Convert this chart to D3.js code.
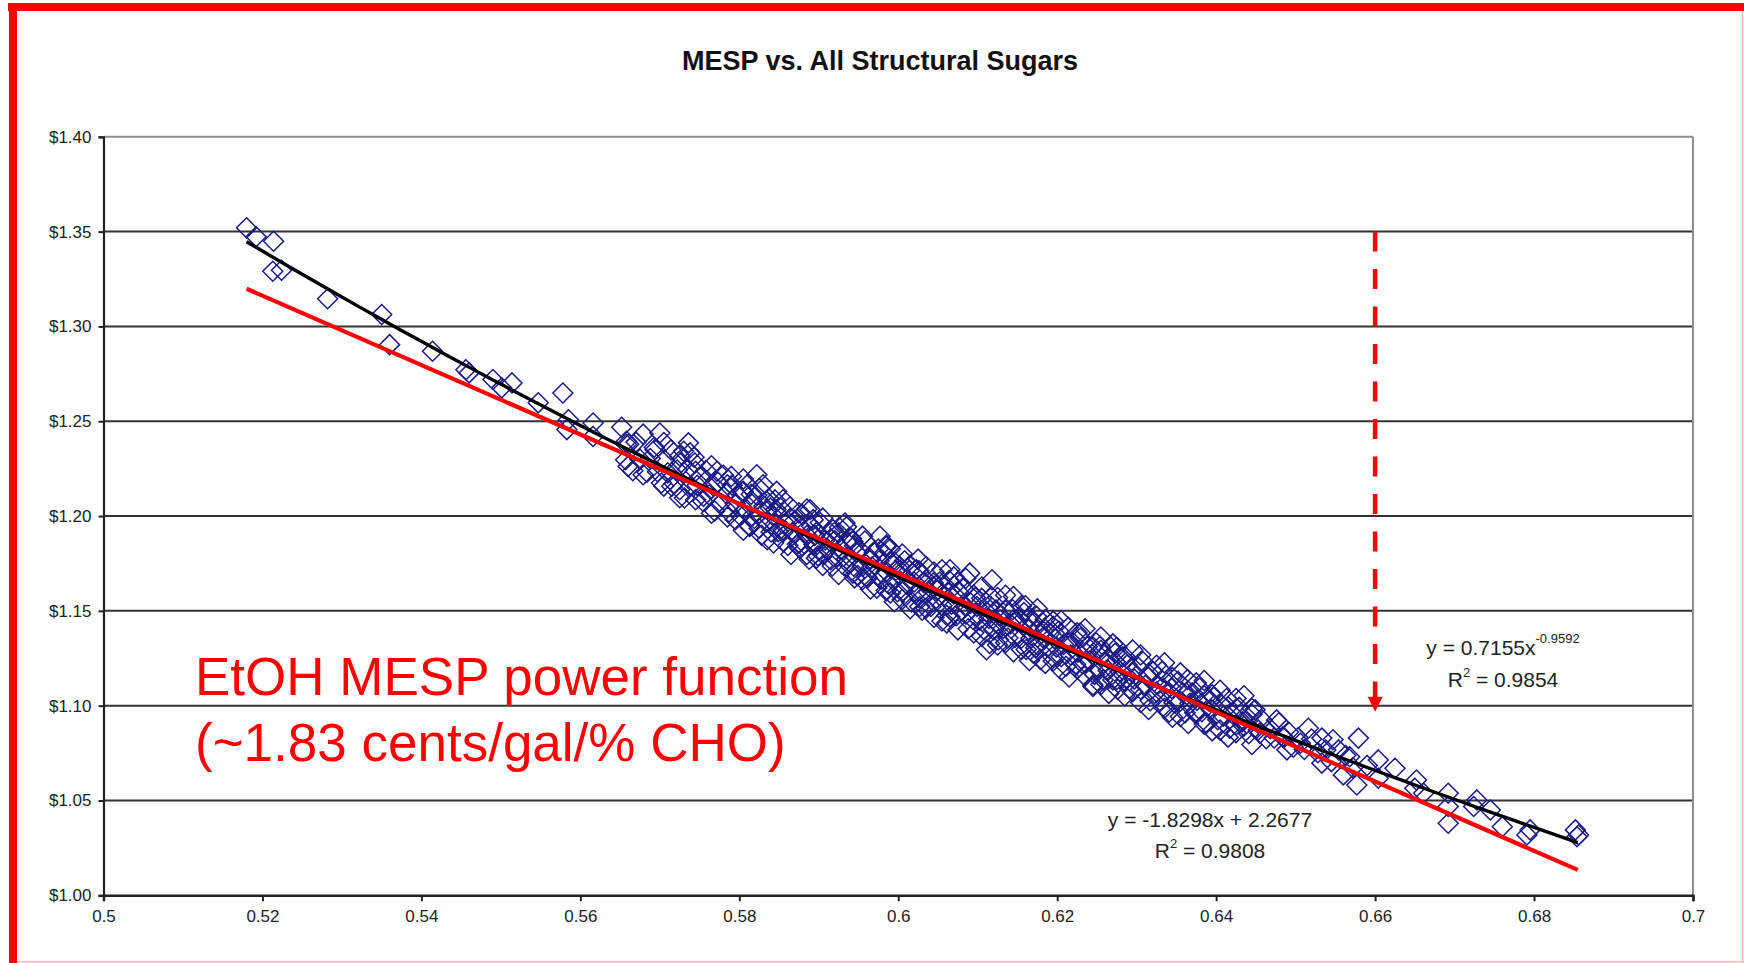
<!DOCTYPE html>
<html>
<head>
<meta charset="utf-8">
<script src="https://cdn.jsdelivr.net/npm/d3@7"></script>
<style>
  html, body { margin: 0; padding: 0; background: #fff; }
  svg { display: block; }
  text { font-family: "Liberation Sans", Arial, sans-serif; }
</style>
</head>
<body>
<svg id="chart" width="1744" height="963"></svg>
<script>
// ---------------- DATA ----------------
const chartTitle = "MESP vs. All Structural Sugars";
const xTicks = [0.5, 0.52, 0.54, 0.56, 0.58, 0.6, 0.62, 0.64, 0.66, 0.68, 0.7];
const xTickLabels = ["0.5", "0.52", "0.54", "0.56", "0.58", "0.6", "0.62", "0.64", "0.66", "0.68", "0.7"];
const yTicks = [1.00, 1.05, 1.10, 1.15, 1.20, 1.25, 1.30, 1.35, 1.40];
const yTickLabels = ["$1.00", "$1.05", "$1.10", "$1.15", "$1.20", "$1.25", "$1.30", "$1.35", "$1.40"];

// Trend lines (from the equations printed on the chart)
const powerTrend = { coef: 0.7155, exponent: -0.9592, r2: 0.9854 };
const linearTrend = { slope: -1.8298, intercept: 2.2677, r2: 0.9808 };
const trendXRange = [0.518, 0.6855];

// Arrow marker at 0.66 from $1.35 down to ~$1.097
const arrowX = 0.66;
const arrowYRange = [1.35, 1.0968];

const annotationLines = ["EtOH MESP power function", "(~1.83 cents/gal/% CHO)"];

// Individually readable points (upper-left and lower-right tails)
const tailPoints = [
  [0.5180,1.3520],[0.5192,1.3473],[0.5214,1.3449],[0.5213,1.3291],[0.5224,1.3296],
  [0.5282,1.3146],[0.5350,1.3063],[0.5360,1.2904],[0.5414,1.2869],[0.5456,1.2772],
  [0.5460,1.2755],[0.5490,1.2720],[0.5501,1.2676],[0.5514,1.2702],[0.5547,1.2597],
  [0.5578,1.2649],[0.5583,1.2456],[0.5585,1.2508],[0.5616,1.2491],[0.5616,1.2420],
  [0.5658,1.2394],[0.5658,1.2377],[0.5660,1.2262],[0.5679,1.2218],[0.5700,1.2438],
  [0.5694,1.2350],[0.5715,1.2157],[0.5725,1.2139],[0.5736,1.2386],[0.5738,1.2333],
  [0.5730,1.2342],[0.5744,1.2280],[0.5755,1.2104],[0.5772,1.2236],[0.5790,1.2209],
  [0.5795,1.1981],[0.5805,1.2130],[0.5813,1.1945],[0.5822,1.2218],[0.5830,1.2165],
  [0.5839,1.2042],[0.5843,1.1858],[0.5847,1.2130],[0.5855,1.1928],[0.5876,1.1831],
  [0.5889,1.2033],[0.5893,1.1981],[0.5897,1.1778],[0.5918,1.1928],[0.5933,1.1963],
  [0.5943,1.1866],[0.5943,1.1699],[0.5960,1.1681],[0.5977,1.1893],[0.5985,1.1840],
  [0.5990,1.1594],[0.6002,1.1734],[0.6023,1.1717],[0.6027,1.1523],[0.6044,1.1629],
  [0.6061,1.1436],[0.6065,1.1717],[0.6090,1.1699],[0.6099,1.1523],[0.6111,1.1295],
  [0.6118,1.1664],[0.6128,1.1453],[0.6145,1.1576],[0.6170,1.1277],[0.6174,1.1471],
  [0.6195,1.1418],[0.6229,1.1383],[0.6245,1.1101],[0.6254,1.1313],[0.6273,1.1277],
  [0.6449,1.0978],[0.6455,1.0855],[0.6476,1.0925],[0.6484,1.0837],[0.6489,1.0767],
  [0.6516,1.0881],[0.6506,1.0802],[0.6533,1.0829],[0.6533,1.0697],[0.6547,1.0820],
  [0.6554,1.0767],[0.6560,1.0635],[0.6568,1.0731],[0.6579,1.0829],[0.6577,1.0582],
  [0.6604,1.0714],[0.6604,1.0617],[0.6625,1.0670],[0.6652,1.0608],[0.6650,1.0565],
  [0.6661,1.0538],[0.6692,1.0538],[0.6692,1.0468],[0.6692,1.0380],[0.6728,1.0503],
  [0.6724,1.0468],[0.6745,1.0450],[0.6760,1.0362],[0.6791,1.0318],[0.6795,1.0345],
  [0.6852,1.0345],[0.6856,1.0318],[0.6854,1.0309]
];

// Dense core of the cloud (estimated)
const corePoints = [
  [0.5652,1.2468],[0.5657,1.2297],[0.5661,1.2379],[0.5666,1.2239],[0.5670,1.2390],[0.5675,1.2300],
  [0.5679,1.2432],[0.5684,1.2231],[0.5688,1.2303],[0.5693,1.2363],[0.5697,1.2234],
  [0.5702,1.2174],[0.5706,1.2296],[0.5710,1.2228],[0.5714,1.2349],[0.5718,1.2171],[0.5722,1.2243],
  [0.5727,1.2283],[0.5731,1.2095],[0.5735,1.2246],[0.5739,1.2158],[0.5743,1.2310],[0.5747,1.2162],
  [0.5751,1.2204],[0.5754,1.2078],[0.5758,1.2240],[0.5762,1.2111],[0.5765,1.2145],[0.5769,1.2027],
  [0.5773,1.2179],[0.5776,1.2063],[0.5780,1.2215],[0.5784,1.2117],[0.5787,1.2021],[0.5791,1.2163],
  [0.5795,1.2065],[0.5798,1.2109],
  [0.5801,1.2003],[0.5804,1.2127],[0.5807,1.2031],[0.5810,1.2165],[0.5813,1.1949],[0.5816,1.2063],
  [0.5819,1.1987],[0.5822,1.2111],[0.5825,1.2015],[0.5828,1.1899],[0.5831,1.2053],[0.5834,1.1968],
  [0.5837,1.2092],[0.5840,1.1916],[0.5843,1.2000],[0.5846,1.2034],[0.5849,1.1918],
  [0.5852,1.2042],[0.5855,1.1916],[0.5858,1.1960],[0.5861,1.1845],[0.5864,1.2049],[0.5867,1.1913],
  [0.5870,1.1977],[0.5873,1.1851],[0.5876,1.1945],[0.5879,1.2009],[0.5882,1.1853],[0.5885,1.1897],
  [0.5888,1.1772],[0.5891,1.1946],[0.5894,1.1850],[0.5897,1.1914],[0.5899,1.1790],
  [0.5902,1.1965],[0.5905,1.1799],[0.5908,1.1874],[0.5911,1.1828],[0.5914,1.1912],[0.5917,1.1737],
  [0.5920,1.1871],[0.5923,1.1785],[0.5926,1.1940],[0.5929,1.1824],[0.5932,1.1738],[0.5935,1.1863],
  [0.5938,1.1787],[0.5941,1.1881],[0.5944,1.1735],[0.5947,1.1810],[0.5949,1.1686],
  [0.5952,1.1820],[0.5955,1.1734],[0.5958,1.1868],[0.5961,1.1673],[0.5964,1.1767],[0.5967,1.1731],
  [0.5970,1.1806],[0.5973,1.1620],[0.5976,1.1764],[0.5979,1.1668],[0.5982,1.1803],[0.5985,1.1707],
  [0.5988,1.1641],[0.5991,1.1756],[0.5994,1.1660],[0.5997,1.1714],[0.5999,1.1601],[0.5990,1.1828],
  [0.6002,1.1715],[0.6005,1.1600],[0.6008,1.1764],[0.6011,1.1639],[0.6014,1.1713],[0.6017,1.1547],
  [0.6020,1.1652],[0.6023,1.1596],[0.6026,1.1711],[0.6029,1.1565],[0.6032,1.1649],[0.6035,1.1734],
  [0.6038,1.1598],[0.6041,1.1523],[0.6044,1.1647],[0.6047,1.1562],[0.6049,1.1608],[0.6030,1.1503],
  [0.6052,1.1652],[0.6055,1.1527],[0.6058,1.1581],[0.6061,1.1476],[0.6064,1.1660],[0.6067,1.1535],
  [0.6070,1.1589],[0.6073,1.1474],[0.6076,1.1598],[0.6079,1.1503],[0.6082,1.1617],[0.6085,1.1522],
  [0.6088,1.1406],[0.6091,1.1541],[0.6094,1.1456],[0.6097,1.1570],[0.6099,1.1486],[0.6070,1.1679],
  [0.6102,1.1451],[0.6105,1.1566],[0.6108,1.1401],[0.6111,1.1495],[0.6114,1.1460],[0.6117,1.1574],
  [0.6120,1.1399],[0.6123,1.1504],[0.6126,1.1348],[0.6129,1.1473],[0.6132,1.1407],[0.6135,1.1502],
  [0.6138,1.1357],[0.6141,1.1431],[0.6144,1.1506],[0.6147,1.1360],[0.6149,1.1447],[0.6125,1.1320],
  [0.6152,1.1461],[0.6155,1.1356],[0.6158,1.1491],[0.6161,1.1296],[0.6164,1.1400],[0.6167,1.1355],
  [0.6170,1.1440],[0.6173,1.1305],[0.6176,1.1399],[0.6179,1.1244],[0.6182,1.1359],[0.6185,1.1454],
  [0.6188,1.1308],[0.6191,1.1383],[0.6194,1.1258],[0.6197,1.1353],[0.6199,1.1309],[0.6160,1.1527],
  [0.6202,1.1394],[0.6205,1.1258],[0.6208,1.1323],[0.6211,1.1208],[0.6214,1.1413],[0.6217,1.1267],
  [0.6220,1.1332],[0.6223,1.1217],[0.6226,1.1282],[0.6229,1.1357],[0.6232,1.1221],[0.6235,1.1156],
  [0.6238,1.1311],[0.6241,1.1236],[0.6244,1.1270],[0.6247,1.1165],[0.6249,1.1332],
  [0.6252,1.1197],[0.6255,1.1292],[0.6258,1.1136],[0.6261,1.1231],[0.6264,1.1186],[0.6267,1.1311],
  [0.6270,1.1136],[0.6273,1.1231],[0.6276,1.1086],[0.6279,1.1181],[0.6282,1.1256],[0.6285,1.1130],
  [0.6288,1.1215],[0.6291,1.1090],[0.6294,1.1175],[0.6297,1.1140],[0.6270,1.1326],
  [0.6302,1.1202],[0.6305,1.1087],[0.6308,1.1232],[0.6311,1.1107],[0.6314,1.1151],[0.6317,1.1026],
  [0.6320,1.1181],[0.6323,1.1066],[0.6326,1.1111],[0.6329,1.1026],[0.6332,1.1181],[0.6335,1.1076],
  [0.6338,1.1121],[0.6341,1.0966],[0.6344,1.1091],[0.6347,1.1016],
  [0.6352,1.1128],[0.6355,1.1023],[0.6358,1.1068],[0.6361,1.0963],[0.6364,1.1138],[0.6367,1.1013],
  [0.6370,1.1068],[0.6373,1.0963],[0.6376,1.1028],[0.6379,1.1093],[0.6382,1.0968],[0.6385,1.1053],
  [0.6388,1.0908],[0.6391,1.1023],[0.6394,1.0978],[0.6397,1.1044],
  [0.6402,1.0926],[0.6405,1.1011],[0.6409,1.0944],[0.6413,1.1038],[0.6417,1.0881],[0.6421,1.0955],
  [0.6425,1.0898],[0.6429,1.0991],[0.6433,1.0915],[0.6437,1.0948],[0.6441,1.0852],[0.6445,1.0955],
  [0.6453,1.0872],[0.6458,1.0924],[0.6463,1.0826],[0.6468,1.0878],[0.6473,1.0830],[0.6479,1.0910],
  [0.6485,1.0830],[0.6491,1.0861],[0.6497,1.0781],
  [0.6503,1.0831],[0.6511,1.0769],[0.6520,1.0824],[0.6528,1.0752],[0.6538,1.0766],[0.6545,1.0705],
  [0.6563,1.0737],[0.6572,1.0673],[0.6590,1.0685]
];

// Outer layer of the dense band (estimated)
const bandPoints = [
  [0.5705,1.2388],[0.5705,1.2158],[0.5725,1.2317],[0.5725,1.2097],[0.5745,1.2236],[0.5745,1.2086],
  [0.5765,1.2265],[0.5765,1.2015],[0.5785,1.2165],[0.5785,1.1995],
  [0.5805,1.2195],[0.5805,1.1925],[0.5815,1.2115],[0.5815,1.1995],[0.5825,1.1935],[0.5825,1.2145],
  [0.5835,1.2035],[0.5835,1.1875],[0.5845,1.2085],[0.5845,1.1955],
  [0.5855,1.2086],[0.5855,1.1866],[0.5865,1.1987],[0.5865,1.1797],[0.5875,1.2017],[0.5875,1.1857],
  [0.5885,1.2037],[0.5885,1.1797],[0.5895,1.1898],[0.5895,1.1838],
  [0.5905,1.1989],[0.5905,1.1739],[0.5915,1.1880],[0.5915,1.1770],[0.5925,1.1912],[0.5925,1.1692],
  [0.5935,1.1943],[0.5935,1.1773],[0.5945,1.1844],[0.5945,1.1674],
  [0.5955,1.1894],[0.5955,1.1664],[0.5965,1.1775],[0.5965,1.1615],[0.5975,1.1826],[0.5975,1.1686],
  [0.5985,1.1847],[0.5985,1.1607],[0.5995,1.1758],[0.5995,1.1548],
  [0.6005,1.1800],[0.6005,1.1560],[0.6015,1.1741],[0.6015,1.1511],[0.6025,1.1773],[0.6025,1.1603],
  [0.6035,1.1664],[0.6035,1.1514],[0.6045,1.1705],[0.6045,1.1465],
  [0.6055,1.1717],[0.6055,1.1447],[0.6065,1.1609],[0.6065,1.1469],[0.6075,1.1650],[0.6075,1.1400],
  [0.6085,1.1672],[0.6085,1.1482],[0.6095,1.1584],[0.6095,1.1384],
  [0.6105,1.1626],[0.6105,1.1366],[0.6115,1.1528],[0.6115,1.1328],[0.6125,1.1570],[0.6125,1.1430],
  [0.6135,1.1582],[0.6135,1.1332],[0.6145,1.1454],[0.6145,1.1284],
  [0.6155,1.1526],[0.6155,1.1296],[0.6165,1.1468],[0.6165,1.1238],[0.6175,1.1511],[0.6175,1.1321],
  [0.6185,1.1403],[0.6185,1.1223],[0.6195,1.1446],[0.6195,1.1236],
  [0.6205,1.1448],[0.6205,1.1188],[0.6215,1.1331],[0.6215,1.1151],[0.6225,1.1384],[0.6225,1.1194],
  [0.6235,1.1406],[0.6235,1.1226],[0.6245,1.1309],[0.6245,1.1109],
  [0.6255,1.1362],[0.6255,1.1112],[0.6265,1.1245],[0.6265,1.1065],[0.6275,1.1308],[0.6275,1.1138],
  [0.6285,1.1261],[0.6285,1.1051],[0.6295,1.1294],[0.6295,1.1074],
  [0.6305,1.1267],[0.6305,1.1017],[0.6315,1.1170],[0.6315,1.0980],[0.6325,1.1213],[0.6325,1.1073],
  [0.6335,1.1226],[0.6335,1.0986],[0.6345,1.1149],[0.6345,1.0939],
  [0.6355,1.1173],[0.6355,1.0943],[0.6365,1.1076],[0.6365,1.0906],[0.6375,1.1120],[0.6375,1.0960],
  [0.6385,1.1133],[0.6385,1.0903],[0.6395,1.1057],[0.6395,1.0867],
  [0.6405,1.1081],[0.6405,1.0871],[0.6415,1.0994],[0.6415,1.0834],[0.6425,1.1038],[0.6425,1.0858],
  [0.6435,1.1052],[0.6435,1.0892],[0.6445,1.0985],[0.6445,1.0795]
];

// ---------------- DRAWING ----------------
const svg = d3.select("#chart");
const W = 1744, H = 963;

svg.append("rect").attr("x", 0).attr("y", 0).attr("width", W).attr("height", H).attr("fill", "#fff");

// outer frame
svg.append("line").attr("x1", W - 1.5).attr("x2", W - 1.5).attr("y1", 8).attr("y2", H)
  .attr("stroke", "#ffb8b8").attr("stroke-width", 1.5);
svg.append("line").attr("x1", 9).attr("x2", W).attr("y1", H - 1.2).attr("y2", H - 1.2)
  .attr("stroke", "#ffb8b8").attr("stroke-width", 1.5);
svg.append("rect").attr("x", 8).attr("y", 3).attr("width", W - 8).attr("height", 8).attr("fill", "#ff0000");
svg.append("rect").attr("x", 9).attr("y", 3).attr("width", 8).attr("height", H - 3).attr("fill", "#ff0000");

const x = d3.scaleLinear().domain([0.5, 0.7]).range([103.5, 1693]);
const y = d3.scaleLinear().domain([1.0, 1.4]).range([895.3, 136.8]);

// title
svg.append("text").attr("x", 880).attr("y", 70).attr("text-anchor", "middle")
  .attr("font-size", 27).attr("font-weight", "bold").attr("fill", "#111").text(chartTitle);

// grid lines
const g = svg.append("g");
g.selectAll("line.grid").data(yTicks.filter(v => v > 1.0 && v < 1.4)).enter().append("line")
  .attr("class", "grid")
  .attr("x1", x(0.5)).attr("x2", x(0.7))
  .attr("y1", d => y(d)).attr("y2", d => y(d))
  .attr("stroke", "#333").attr("stroke-width", 2);
// top and right border (gray)
g.append("line").attr("x1", x(0.5)).attr("x2", x(0.7)).attr("y1", y(1.4)).attr("y2", y(1.4))
  .attr("stroke", "#8e8e8e").attr("stroke-width", 2);
g.append("line").attr("x1", x(0.7)).attr("x2", x(0.7)).attr("y1", y(1.4)).attr("y2", y(1.0))
  .attr("stroke", "#8e8e8e").attr("stroke-width", 2);

// axes
const yAxis = d3.axisLeft(y).tickValues(yTicks).tickSize(5).tickPadding(7)
  .tickFormat((d, i) => yTickLabels[i]);
const xAxis = d3.axisBottom(x).tickValues(xTicks).tickSize(6).tickPadding(9)
  .tickFormat((d, i) => xTickLabels[i]);

const ya = svg.append("g").attr("transform", `translate(${x(0.5)},0)`).call(yAxis);
ya.select(".domain").attr("stroke", "#222").attr("stroke-width", 2.2);
ya.selectAll(".tick line").attr("stroke", "#222").attr("stroke-width", 2);
ya.selectAll(".tick text").attr("font-size", 17).attr("fill", "#222")
  .attr("font-family", "'Liberation Sans', Arial, sans-serif");

const xa = svg.append("g").attr("transform", `translate(0,${y(1.0)})`).call(xAxis);
xa.select(".domain").attr("stroke", "#222").attr("stroke-width", 2.5);
xa.selectAll(".tick line").attr("stroke", "#222").attr("stroke-width", 2);
xa.selectAll(".tick text").attr("font-size", 17).attr("fill", "#222")
  .attr("font-family", "'Liberation Sans', Arial, sans-serif");

// points (diamonds)
const hd = 10;
const diamond = `M0,${-hd}L${hd},0L0,${hd}L${-hd},0Z`;
const allPoints = tailPoints.concat(corePoints, bandPoints);
svg.append("g").selectAll("path").data(allPoints).enter().append("path")
  .attr("d", diamond)
  .attr("transform", d => `translate(${x(d[0])},${y(d[1])})`)
  .attr("fill", "none").attr("stroke", "#1a1a88").attr("stroke-width", 1.5);

// power trend line (black)
const powerSamples = d3.range(0, 61).map(i => trendXRange[0] + (trendXRange[1] - trendXRange[0]) * i / 60);
const line = d3.line().x(d => x(d[0])).y(d => y(d[1]));
svg.append("path")
  .attr("d", line(powerSamples.map(v => [v, powerTrend.coef * Math.pow(v, powerTrend.exponent)])))
  .attr("fill", "none").attr("stroke", "#000").attr("stroke-width", 3.4);

// linear trend line (red)
svg.append("path")
  .attr("d", line(trendXRange.map(v => [v, linearTrend.slope * v + linearTrend.intercept])))
  .attr("fill", "none").attr("stroke", "#ff0000").attr("stroke-width", 4.2);

// dashed arrow
const ax = x(arrowX), ay0 = y(arrowYRange[0]), ay1 = y(arrowYRange[1]);
svg.append("line").attr("x1", ax).attr("x2", ax).attr("y1", ay0).attr("y2", ay1 - 12)
  .attr("stroke", "#ff0000").attr("stroke-width", 4.5).attr("stroke-dasharray", "20,17.5");
svg.append("path").attr("d", `M${ax - 7.5},${ay1 - 15}L${ax + 7.5},${ay1 - 15}L${ax},${ay1}Z`)
  .attr("fill", "#ff0000");

// equations
const eq1 = svg.append("text").attr("x", 1503).attr("y", 655).attr("text-anchor", "middle")
  .attr("font-size", 21).attr("fill", "#222");
eq1.append("tspan").text(`y = ${powerTrend.coef}x`);
eq1.append("tspan").attr("font-size", 13).attr("dy", -12).text(`${powerTrend.exponent}`);
const eq1r = svg.append("text").attr("x", 1503).attr("y", 687).attr("text-anchor", "middle")
  .attr("font-size", 21).attr("fill", "#222");
eq1r.append("tspan").text("R");
eq1r.append("tspan").attr("font-size", 13).attr("dy", -10).text("2");
eq1r.append("tspan").attr("dy", 10).text(` = ${powerTrend.r2}`);

svg.append("text").attr("x", 1210).attr("y", 827).attr("text-anchor", "middle")
  .attr("font-size", 21).attr("fill", "#222")
  .text(`y = ${linearTrend.slope}x + ${linearTrend.intercept}`);
const eq2r = svg.append("text").attr("x", 1210).attr("y", 858).attr("text-anchor", "middle")
  .attr("font-size", 21).attr("fill", "#222");
eq2r.append("tspan").text("R");
eq2r.append("tspan").attr("font-size", 13).attr("dy", -10).text("2");
eq2r.append("tspan").attr("dy", 10).text(` = ${linearTrend.r2}`);

// red annotation
svg.selectAll("text.note").data(annotationLines).enter().append("text")
  .attr("class", "note")
  .attr("x", 195).attr("y", (d, i) => 695 + i * 66)
  .attr("font-size", 53).attr("fill", "#ff0000").text(d => d);
</script>
</body>
</html>
